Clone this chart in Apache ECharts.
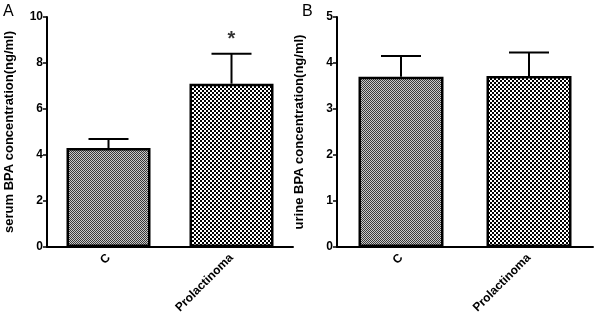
<!DOCTYPE html>
<html>
<head>
<meta charset="utf-8">
<script src="https://cdn.jsdelivr.net/npm/echarts@6/dist/echarts.min.js"></script>
<style>
  html, body { margin: 0; padding: 0; background: #fff; }
  #main { width: 600px; height: 329px; }
</style>
</head>
<body>
<div id="main"></div>
<script>
  var categories = ['C', 'Prolactinoma'];
  // panel A: serum
  var serumMean = [4.3, 7.1];
  var serumUpper = [4.7, 8.4];
  // panel B: urine
  var urineMean = [3.7, 3.72];
  var urineUpper = [4.15, 4.23];

  // hatch patterns
  function makePattern(size, cell, c1, c2) {
    var cv = document.createElement('canvas');
    cv.width = size; cv.height = size;
    var ctx = cv.getContext('2d');
    ctx.fillStyle = c1;
    ctx.fillRect(0, 0, size, size);
    ctx.fillStyle = c2;
    for (var y = 0; y < size; y += cell) {
      for (var x = 0; x < size; x += cell) {
        if (((x + y) / cell) % 2 === 0) ctx.fillRect(x, y, cell, cell);
      }
    }
    return { image: cv, repeat: 'repeat' };
  }
  var finePat = makePattern(2, 1, '#c8c8c8', '#383838');
  var coarsePat = makePattern(4, 2, '#ffffff', '#000000');

  var myChart = echarts.init(document.getElementById('main'));

  function errRender(params, api) {
    var x = api.value(0);
    var base = api.coord([x, api.value(1)]);
    var top = api.coord([x, api.value(2)]);
    var half = 20;
    var st = { stroke: '#000', lineWidth: 2 };
    return {
      type: 'group',
      children: [
        { type: 'line', shape: { x1: base[0], y1: base[1], x2: top[0], y2: top[1] }, style: st },
        { type: 'line', shape: { x1: top[0] - half, y1: top[1], x2: top[0] + half, y2: top[1] }, style: st }
      ]
    };
  }

  var axisLbl = { color: '#000', fontFamily: 'Liberation Sans', fontWeight: 'bold', fontSize: 12 };

  function xAxisFor(idx) {
    return {
      type: 'category', gridIndex: idx, data: categories,
      axisLine: { lineStyle: { color: '#000', width: 2 } },
      axisTick: { alignWithLabel: true, length: 6, lineStyle: { color: '#000', width: 1.5 } },
      axisLabel: Object.assign({ rotate: 45, margin: 9 }, axisLbl)
    };
  }
  function yAxisFor(idx, max, step, name) {
    return {
      type: 'value', gridIndex: idx, min: 0, max: max, interval: step,
      name: name, nameLocation: 'middle', nameGap: 31,
      nameTextStyle: { color: '#000', fontFamily: 'Liberation Sans', fontWeight: 'bold', fontSize: 13 },
      splitLine: { show: false },
      axisLine: { show: true, lineStyle: { color: '#000', width: 2 } },
      axisTick: { show: true, length: 4, lineStyle: { color: '#000', width: 1.5 } },
      axisLabel: Object.assign({ margin: 4 }, axisLbl)
    };
  }

  function barData(vals) {
    return vals.map(function (v, i) {
      return { value: v, itemStyle: { color: i === 0 ? finePat : coarsePat } };
    });
  }
  function errData(mean, upper) {
    return mean.map(function (v, i) { return [i, v, upper[i]]; });
  }

  var option = {
    animation: false,
    grid: [
      { left: 47, top: 17, width: 246, height: 230 },
      { left: 337, top: 17, width: 256, height: 230 }
    ],
    graphic: [
      { type: 'text', left: 3, top: 4, style: { text: 'A', fontSize: 16, fontFamily: 'Liberation Sans', fill: '#000' } },
      { type: 'text', left: 302, top: 4, style: { text: 'B', fontSize: 16, fontFamily: 'Liberation Sans', fill: '#000' } }
    ],
    xAxis: [xAxisFor(0), xAxisFor(1)],
    yAxis: [
      yAxisFor(0, 10, 2, 'serum BPA concentration(ng/ml)'),
      yAxisFor(1, 5, 1, 'urine BPA concentration(ng/ml)')
    ],
    series: [
      {
        type: 'bar', xAxisIndex: 0, yAxisIndex: 0, barWidth: 84,
        data: barData(serumMean),
        itemStyle: { borderColor: '#000', borderWidth: 2.5 }
      },
      {
        type: 'custom', xAxisIndex: 0, yAxisIndex: 0,
        data: errData(serumMean, serumUpper), renderItem: errRender, z: 3
      },
      {
        // significance marker above the error bar
        type: 'scatter', xAxisIndex: 0, yAxisIndex: 0,
        data: [[1, serumUpper[1]]], symbolSize: 0,
        label: {
          show: true, position: 'top', distance: 4, formatter: '*',
          color: '#000', fontSize: 20, fontWeight: 'bold', fontFamily: 'Liberation Sans'
        }
      },
      {
        type: 'bar', xAxisIndex: 1, yAxisIndex: 1, barWidth: 85,
        data: barData(urineMean),
        itemStyle: { borderColor: '#000', borderWidth: 2.5 }
      },
      {
        type: 'custom', xAxisIndex: 1, yAxisIndex: 1,
        data: errData(urineMean, urineUpper), renderItem: errRender, z: 3
      }
    ]
  };
  myChart.setOption(option);
</script>
</body>
</html>
